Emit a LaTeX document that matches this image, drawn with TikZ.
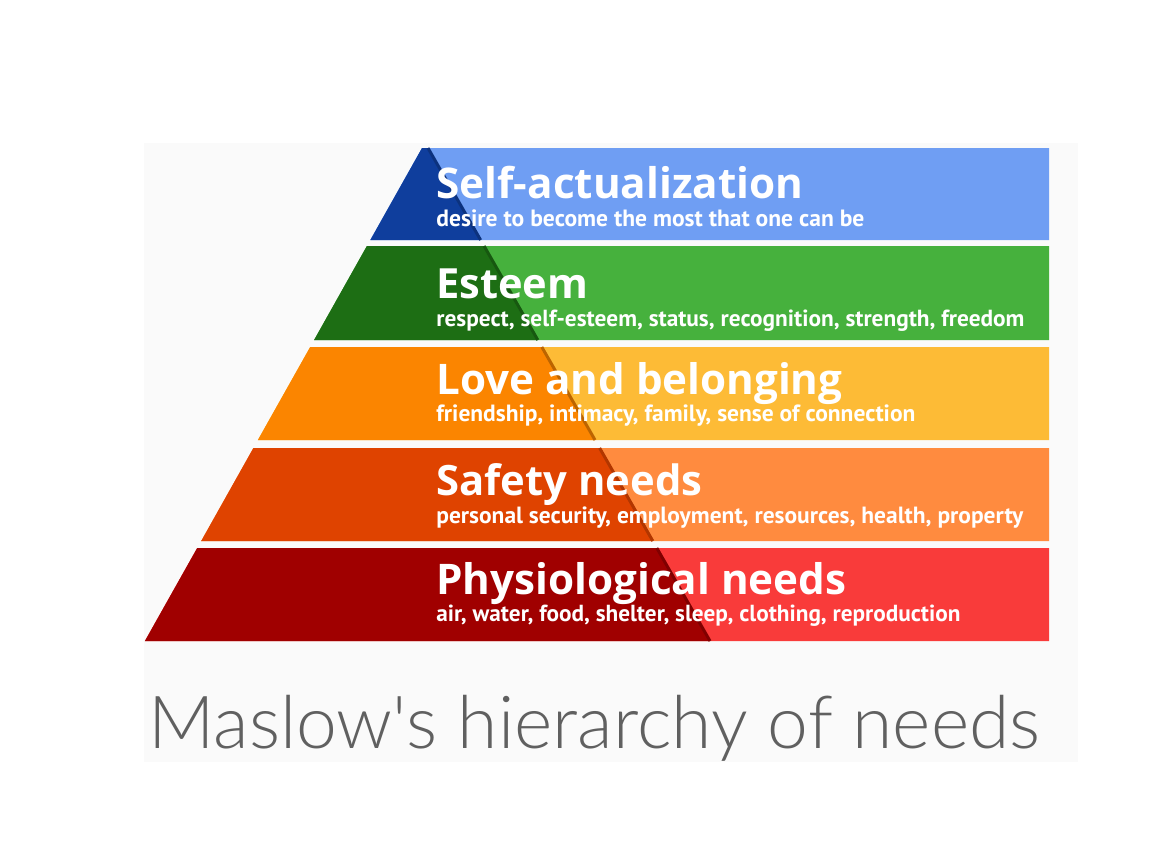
\documentclass[tikz,border=0pt]{standalone}
\usepackage{fontspec}
\newfontfamily\headf{Open Sans}
\newfontfamily\subf{PT Sans}
\newfontfamily\capf{Lato Light}
\definecolor{panel}{HTML}{FAFAFA}
\definecolor{blueL}{HTML}{6F9EF3}
\definecolor{blueD}{HTML}{0F3E9D}
\definecolor{greenL}{HTML}{46B13D}
\definecolor{greenD}{HTML}{1D6E14}
\definecolor{loveL}{HTML}{FDBB36}
\definecolor{loveD}{HTML}{FB8500}
\definecolor{safeL}{HTML}{FF8B3F}
\definecolor{safeD}{HTML}{DF4300}
\definecolor{physL}{HTML}{F93B3A}
\definecolor{physD}{HTML}{A00000}
\definecolor{capc}{HTML}{606060}
\newcommand{\fitw}[2]{\resizebox{#1pt}{!}{#2}}
\tikzset{
  head/.style={anchor=base west, inner sep=0pt, text=white, font=\headf\bfseries},
  sub/.style={anchor=base west, inner sep=0pt, text=white, font=\subf\bfseries},
  seam/.style={line width=1.5pt}
}
\begin{document}
\begin{tikzpicture}[x=0.5pt,y=-0.5pt]
\useasboundingbox (0,0) rectangle (1173,852);
\fill[white] (0,0) rectangle (1173,852);
\fill[panel] (144,143) rectangle (1078,762);
% bars: light part then dark part
% 1 Self-actualization
\fill[blueL] (422,148) -- (1049,148) -- (1049,240) -- (370.3,240) -- cycle;
\fill[blueD] (422,148) -- (428,148) -- (480.6,240) -- (370.3,240) -- cycle;
\draw[seam, blueD!80!black] (428,148) -- (480.6,240);
% 2 Esteem
\fill[greenL] (366.9,246) -- (1049,246) -- (1049,340) -- (314.1,340) -- cycle;
\fill[greenD] (366.9,246) -- (484.1,246) -- (537.8,340) -- (314.1,340) -- cycle;
\draw[seam, greenD!80!black] (484.1,246) -- (537.8,340);
% 3 Love
\fill[loveL] (310.2,347) -- (1049,347) -- (1049,440) -- (257.9,440) -- cycle;
\fill[loveD] (310.2,347) -- (541.8,347) -- (595.0,440) -- (257.9,440) -- cycle;
\draw[seam, loveD!75!black] (541.8,347) -- (595.0,440);
% 4 Safety
\fill[safeL] (253.4,448) -- (1049,448) -- (1049,541) -- (201.2,541) -- cycle;
\fill[safeD] (253.4,448) -- (599.6,448) -- (652.8,541) -- (201.2,541) -- cycle;
\draw[seam, safeD!80!black] (599.6,448) -- (652.8,541);
% 5 Physiological
\fill[physL] (197.2,548) -- (1049,548) -- (1049,641) -- (144.9,641) -- cycle;
\fill[physD] (197.2,548) -- (656.8,548) -- (710.0,641) -- (144.9,641) -- cycle;
\draw[seam, physD!80!black] (656.8,548) -- (710.0,641);
% texts
\node[head] (h1) at (436,198) {\fitw{183.5}{Self-actualization}};
\node[sub]  (s1) at (436,226) {\fitw{214}{desire to become the most that one can be}};
\node[head] (h2) at (436,298) {\fitw{76}{Esteem}};
\node[sub]  (s2) at (436,326) {\fitw{294}{respect, self-esteem, status, recognition, strength, freedom}};
\node[head] (h3) at (436,394) {\fitw{203}{Love and belonging}};
\node[sub]  (s3) at (436,421) {\fitw{239.5}{friendship, intimacy, family, sense of connection}};
\node[head] (h4) at (436,495) {\fitw{133}{Safety needs}};
\node[sub]  (s4) at (436,523) {\fitw{293.5}{personal security, employment, resources, health, property}};
\node[head] (h5) at (436,594) {\fitw{205}{Physiological needs}};
\node[sub]  (s5) at (436,621) {\fitw{262}{air, water, food, shelter, sleep, clothing, reproduction}};
\node[anchor=base west, inner sep=0pt, text=capc, font=\capf] (cap) at (148,748) {\fitw{446}{Maslow's hierarchy of needs}};
\end{tikzpicture}
\end{document}
